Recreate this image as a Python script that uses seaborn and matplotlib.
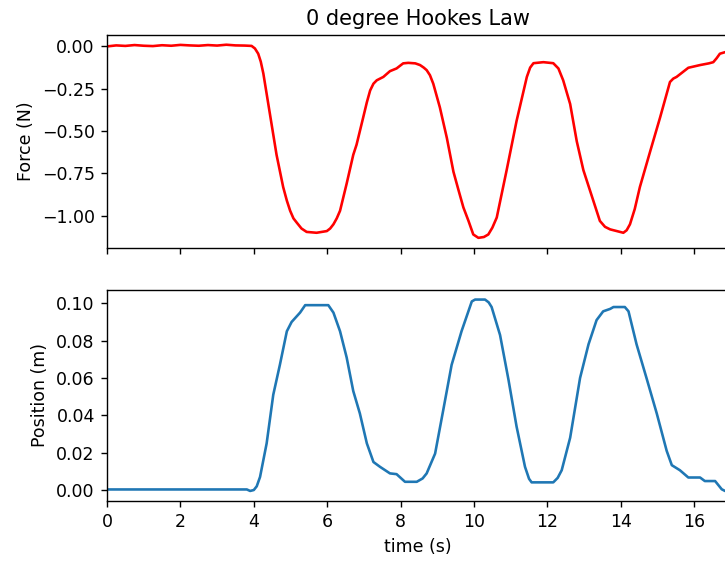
import matplotlib
matplotlib.use("Agg")
import matplotlib.pyplot as plt
import seaborn as sns

# Force sensor trace (time in s, force in N)
force_time = [0.0, 0.25, 0.5, 0.75, 1.0, 1.25, 1.5, 1.75, 2.0, 2.25, 2.5, 2.75,
              3.0, 3.25, 3.5, 3.75, 3.94, 4.03, 4.12, 4.19, 4.26, 4.44, 4.62,
              4.80, 4.90, 4.99, 5.08, 5.17, 5.30, 5.44, 5.71, 5.99, 6.08, 6.17,
              6.26, 6.35, 6.53, 6.71, 6.80, 6.98, 7.08, 7.17, 7.26, 7.35, 7.53,
              7.71, 7.89, 8.07, 8.21, 8.40, 8.53, 8.63, 8.71, 8.80, 8.89, 9.07,
              9.26, 9.44, 9.58, 9.71, 9.85, 9.98, 10.12, 10.27, 10.39, 10.50,
              10.62, 10.89, 11.16, 11.44, 11.53, 11.62, 11.89, 12.16, 12.30,
              12.43, 12.62, 12.80, 12.98, 13.25, 13.43, 13.57, 13.71, 14.07,
              14.16, 14.25, 14.38, 14.52, 14.80, 15.07, 15.34, 15.43, 15.52,
              15.84, 16.16, 16.40, 16.52, 16.61, 16.70, 16.84, 16.95]
force_values = [0.0, 0.006, 0.003, 0.008, 0.004, 0.002, 0.007, 0.004, 0.009,
                0.006, 0.004, 0.008, 0.005, 0.010, 0.006, 0.005, 0.003, -0.012,
                -0.043, -0.09, -0.16, -0.40, -0.64, -0.83, -0.91, -0.97, -1.015,
                -1.04, -1.075, -1.095, -1.10, -1.09, -1.075, -1.05, -1.015, -0.97,
                -0.81, -0.64, -0.58, -0.42, -0.33, -0.26, -0.22, -0.20, -0.18,
                -0.146, -0.13, -0.10, -0.097, -0.10, -0.11, -0.125, -0.14, -0.17,
                -0.22, -0.36, -0.54, -0.74, -0.85, -0.95, -1.03, -1.11, -1.13,
                -1.125, -1.11, -1.07, -1.01, -0.73, -0.44, -0.18, -0.125, -0.099,
                -0.093, -0.099, -0.13, -0.20, -0.34, -0.56, -0.73, -0.91, -1.03,
                -1.065, -1.08, -1.10, -1.085, -1.05, -0.96, -0.83, -0.62, -0.42,
                -0.21, -0.19, -0.18, -0.126, -0.11, -0.10, -0.093, -0.07, -0.043,
                -0.034, -0.03]

# Position trace (time in s, position in m)
pos_time = [0.0, 1.0, 2.0, 3.0, 3.81, 3.90, 4.0, 4.08, 4.17, 4.35, 4.53, 4.71,
            4.90, 5.03, 5.26, 5.40, 6.03, 6.17, 6.35, 6.53, 6.71, 6.89, 7.08,
            7.26, 7.44, 7.71, 7.89, 8.03, 8.12, 8.44, 8.60, 8.71, 8.94, 9.16,
            9.39, 9.66, 9.94, 10.03, 10.30, 10.40, 10.48, 10.71, 10.94, 11.16,
            11.39, 11.50, 11.57, 12.16, 12.28, 12.39, 12.62, 12.89, 13.12,
            13.34, 13.52, 13.71, 13.80, 14.11, 14.21, 14.43, 14.70, 14.98,
            15.25, 15.39, 15.61, 15.84, 16.16, 16.29, 16.57, 16.75, 16.84, 16.95]
pos_values = [0.0003, 0.0003, 0.0003, 0.0003, 0.0003, -0.0005, 0.0, 0.002,
              0.007, 0.025, 0.051, 0.067, 0.085, 0.090, 0.095, 0.099, 0.099,
              0.095, 0.085, 0.071, 0.053, 0.041, 0.025, 0.015, 0.0124, 0.0089,
              0.0085, 0.0060, 0.0044, 0.0044, 0.0062, 0.0089, 0.0195, 0.0426,
              0.067, 0.085, 0.101, 0.102, 0.102, 0.1005, 0.098, 0.083, 0.059,
              0.034, 0.0124, 0.0060, 0.0041, 0.0041, 0.0065, 0.0106, 0.028,
              0.060, 0.078, 0.091, 0.0957, 0.097, 0.098, 0.098, 0.0957, 0.078,
              0.060, 0.041, 0.021, 0.0133, 0.0106, 0.0067, 0.0067, 0.0048,
              0.0048, 0.0004, -0.0005, -0.0005]

plt.rcParams.update(plt.rcParamsDefault)
plt.rcParams["font.family"] = ["DejaVu Sans"]

fig, (ax_f, ax_p) = plt.subplots(2, 1, sharex=True, figsize=(5.8, 4.496), dpi=125)
ax_f.set_position([0.1476, 0.5596, 0.858, 0.378])
ax_p.set_position([0.1476, 0.1094, 0.858, 0.3746])

sns.lineplot(x=force_time, y=force_values, ax=ax_f, color="red",
             linewidth=1.5, estimator=None, sort=False)
sns.lineplot(x=pos_time, y=pos_values, ax=ax_p, color="#1f77b4",
             linewidth=1.5, estimator=None, sort=False)

ax_f.set_title("0 degree Hookes Law")
ax_f.set_ylabel("Force (N)")
ax_p.set_ylabel("Position (m)")
ax_p.set_xlabel("time (s)")
ax_p.set_xlim(0, max(pos_time))
ax_f.set_yticks([0.0, -0.25, -0.5, -0.75, -1.0])
ax_p.set_yticks([0.0, 0.02, 0.04, 0.06, 0.08, 0.10])
ax_f.tick_params(labelbottom=False)

fig.savefig("out.png", dpi=125)
